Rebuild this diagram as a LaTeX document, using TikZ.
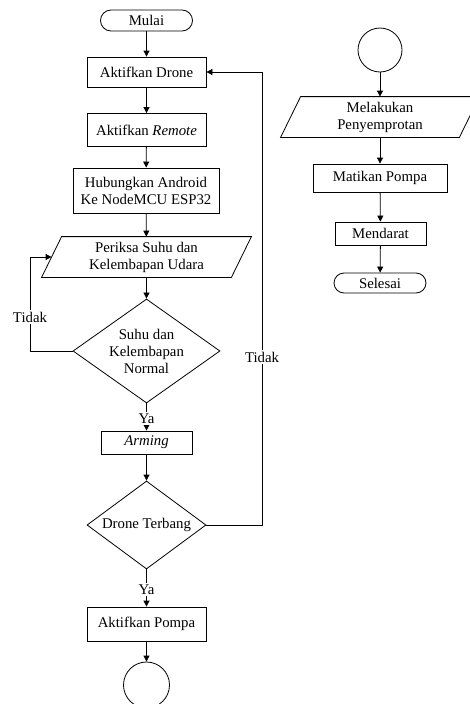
\documentclass[tikz,border=0pt]{standalone}
\usepackage{fontspec}
\setmainfont{Liberation Serif}
\usetikzlibrary{shapes.geometric,arrows.meta}
\begin{document}
\begin{tikzpicture}[x=1pt,y=-1pt,line width=0.8pt,
  every node/.style={font=\fontsize{14.8}{17}\selectfont, align=center},
  proc/.style 2 args={draw, rectangle, minimum width=#1, minimum height=#2, inner sep=0pt},
  term/.style 2 args={draw, rectangle, rounded corners=#2/2, minimum width=#1, minimum height=#2, inner sep=0pt},
  iobox/.style 2 args={rectangle, minimum width=#1, minimum height=#2, inner sep=0pt},
  decision/.style 2 args={draw, diamond, shape aspect=1.4, minimum width=#1, minimum height=#2, inner sep=0pt},
  conn/.style={draw, circle, minimum size=#1, inner sep=0pt},
  arr/.style={-{Triangle[length=6pt,width=6pt]}},
  lbl/.style={fill=white, inner sep=1.5pt}
]
\useasboundingbox (0,0) rectangle (470,704);

% left column
\node[term={92}{21}]        (start) at (146.5,20.5) {Mulai};
\node[proc={119}{30}]       (drone) at (146.5,72)   {Aktifkan Drone};
\node[proc={119}{33}]       (remote) at (146.5,130) {Aktifkan \textit{Remote}};
\node[proc={146}{45}]       (hub)   at (146,190.5)  {Hubungkan Android\\Ke NodeMCU ESP32};
\node[iobox={189}{40}]      (cek)   at (146.5,257)  {Periksa Suhu dan\\Kelembapan Udara};
\node[decision={147}{104}]  (normal) at (146.5,351) {Suhu dan\\Kelembapan\\Normal};
\node[proc={91}{23}]        (arm)   at (146.5,442.5) {\textit{Arming}};
\node[decision={119}{88}]   (fly)   at (146.5,525)  {Drone Terbang};
\node[proc={119}{34}]       (pump)  at (146.5,624)  {Aktifkan Pompa};
\node[conn=46]              (offA)  at (146.5,685)  {};

% right column
\node[conn=44]              (offB)  at (380,50)     {};
\node[iobox={178}{40}]      (spray) at (380,117)    {Melakukan\\Penyemprotan};
\node[proc={134}{28}]       (stop)  at (380,178)    {Matikan Pompa};
\node[proc={91}{23}]        (land)  at (380.5,233.5) {Mendarat};
\node[term={92}{20}]        (finish) at (380,283)   {Selesai};

% input/output parallelograms
\foreach \n in {cek,spray}
  \draw ([xshift=-10pt]\n.south west) -- ([xshift=10pt]\n.north west)
     -- ([xshift=10pt]\n.north east) -- ([xshift=-10pt]\n.south east) -- cycle;

% main flow
\draw[arr] (start) -- (drone);
\draw[arr] (drone) -- (remote);
\draw[arr] (remote) -- (hub);
\draw[arr] (hub) -- (cek);
\draw[arr] (cek) -- (normal);
\draw[arr] (normal.south) -- node[lbl, pos=0.56] {Ya} (arm.north);
\draw[arr] (arm) -- (fly);
\draw[arr] (fly.south) -- node[lbl, pos=0.55] {Ya} (pump.north);
\draw[arr] (pump) -- (offA);

\draw[arr] (offB) -- (spray);
\draw[arr] (spray) -- (stop);
\draw[arr] (stop) -- (land);
\draw[arr] (land) -- (finish);

% loop back: conditions not normal
\coordinate (lx) at (30,0);
\draw[arr] (normal.west) -- (normal.west -| lx) |- (cek.west);
\node[lbl] (noA) at (30,317) {Tidak};

% loop back: drone not flying
\coordinate (rx) at (262,0);
\draw[arr] (fly.east) -- (fly.east -| rx) |- (drone.east);
\node[lbl] (noB) at (262,357) {Tidak};
\end{tikzpicture}
\end{document}
